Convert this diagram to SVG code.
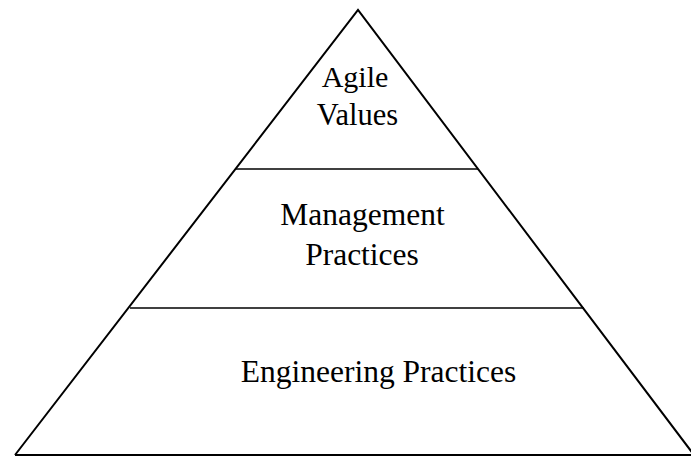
<svg xmlns="http://www.w3.org/2000/svg" width="691" height="457" viewBox="0 0 691 457">
<style>
.edge{stroke:#000;stroke-width:2;fill:none}
.div{stroke:#000;stroke-width:1.3}
.t{font-family:"Liberation Serif","Times New Roman",serif;font-size:31.5px;fill:#000;text-anchor:middle}
</style>
<rect width="691" height="457" fill="#fff"/>
<g id="pyramid">
<path class="edge" d="M15,455 L358,10 L694,455"/>
<line class="edge" x1="15" y1="455" x2="691" y2="455"/>
</g>
<g id="connectors">
<line class="div" x1="236" y1="169" x2="478" y2="169"/>
<line class="div" x1="130" y1="308" x2="584" y2="308"/>
</g>
<g id="agile-values">
<text class="t" x="355" y="87" style="font-size:30px">Agile</text>
<text class="t" x="357.5" y="125" style="font-size:30.5px">Values</text>
</g>
<g id="management-practices">
<text class="t" x="362.5" y="225">Management</text>
<text class="t" x="362" y="265">Practices</text>
</g>
<g id="engineering-practices">
<text class="t" x="378.5" y="382">Engineering Practices</text>
</g>
</svg>
